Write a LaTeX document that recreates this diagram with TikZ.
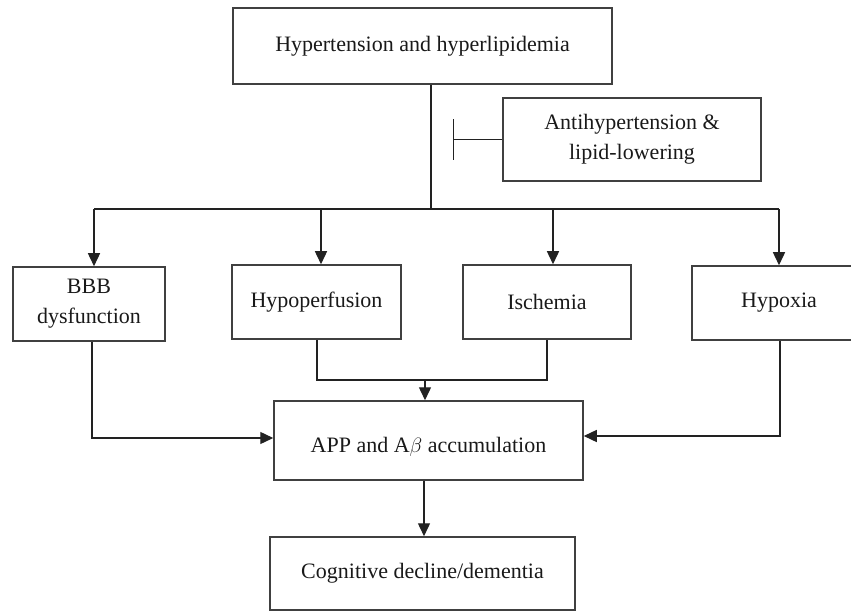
\documentclass[tikz,border=0pt]{standalone}
\usepackage{fontspec}
\setmainfont{Liberation Serif}
\usetikzlibrary{arrows.meta}
\definecolor{boxline}{HTML}{404040}
\definecolor{conline}{HTML}{222222}
\begin{document}
\begin{tikzpicture}[x=1pt,y=-1pt,
  box/.style={draw=boxline, line width=1.5pt, inner sep=0pt, align=center,
    font=\fontsize{22}{30}\selectfont, text=black!90},
  lbl/.style={inner sep=0pt, align=center, font=\fontsize{22}{30}\selectfont, text=black!90},
  con/.style={draw=conline, line width=1.4pt},
  arr/.style={con, -{Triangle[length=13pt,width=12pt]}},
  inhib/.style={con, -{Bar[width=41pt]}}]
\useasboundingbox (0,0) rectangle (851,612);
\clip (0,0) rectangle (851,612);
% boxes
\node[box, minimum width=379pt, minimum height=76pt] (top) at (422.5,46) {Hypertension and hyperlipidemia};
\node[box, minimum width=258pt, minimum height=83pt] (anti) at (632,139.5) {Antihypertension \&\\lipid-lowering};
\node[box, minimum width=152pt, minimum height=74pt] (bbb) at (89,304) {BBB\\dysfunction};
\node[box, minimum width=169pt, minimum height=74pt] (hypo) at (316.5,302) {Hypoperfusion};
\node[box, minimum width=168pt, minimum height=74pt] (isch) at (547,302) {Ischemia};
\node[box, minimum width=174pt, minimum height=74pt] (hypox) at (779,303) {Hypoxia};
\node[box, minimum width=309pt, minimum height=79pt] (app) at (428.5,440.5) {};
\node[lbl] (appt) at (428.5,447) {APP and A$\beta$ accumulation};
\node[box, minimum width=305pt, minimum height=73pt] (cog) at (422.5,573.5) {Cognitive decline/dementia};
% junction coordinates
\coordinate (j) at (431,209);
\coordinate (jl) at (94,209);
\coordinate (jr) at (779,209);
\coordinate (j2) at (321,209);
\coordinate (j3) at (553,209);
\coordinate (tb) at (453,139.5);
\coordinate (mL) at (317,380);
\coordinate (mR) at (547,380);
\coordinate (m) at (425,380);
\coordinate (bl) at (92,438);
\coordinate (hr) at (780,436);
\coordinate (ac) at (424,0);
% trunk and branches
\draw[con] (top.south -| j) -- (j);
\draw[con] (jl) -- (jr);
\draw[arr] (jl) -- (bbb.north -| jl);
\draw[arr] (j2) -- (hypo.north -| j2);
\draw[arr] (j3) -- (isch.north -| j3);
\draw[arr] (jr) -- (hypox.north -| jr);
% inhibition
\draw[inhib] (anti.west) -- (tb);
% into APP
\draw[arr] (bbb.south -| bl) -- (bl) -- (app.west |- bl);
\draw[con] (hypo.south -| mL) -- (mL) -- (mR) -- (isch.south -| mR);
\draw[arr] (m) -- (app.north -| m);
\draw[arr] (hypox.south -| hr) -- (hr) -- (app.east |- hr);
% to cognitive
\draw[arr] (app.south -| ac) -- (cog.north -| ac);
\end{tikzpicture}
\end{document}
